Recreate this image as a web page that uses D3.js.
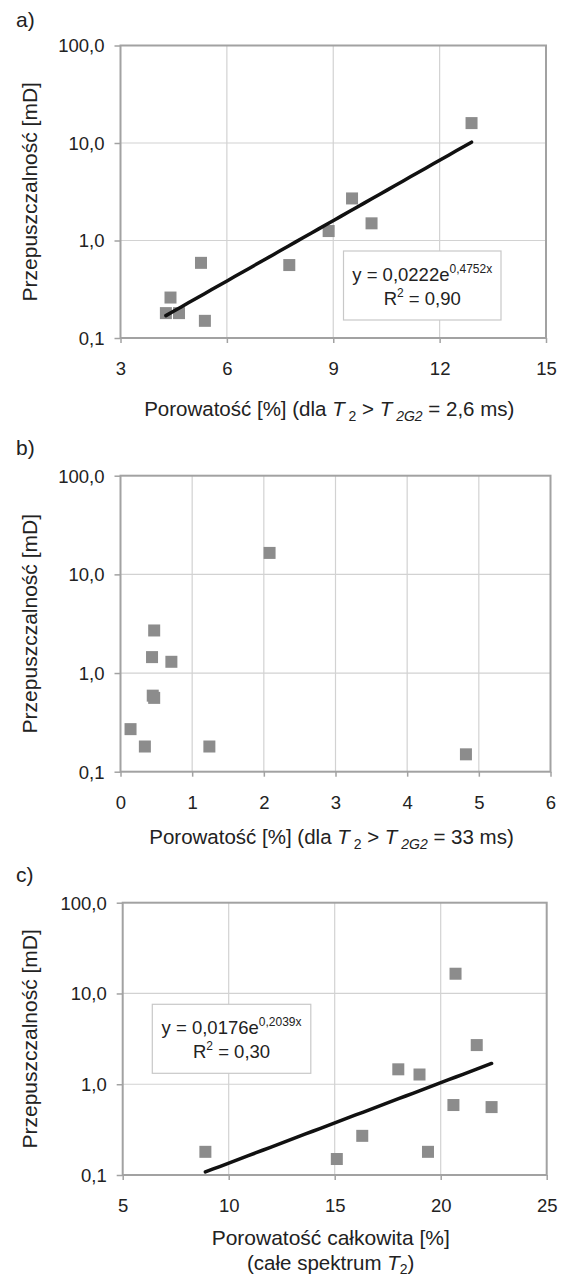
<!DOCTYPE html>
<html><head><meta charset="utf-8">
<script src="https://cdn.jsdelivr.net/npm/d3@7"></script>
<style>
html,body{margin:0;padding:0;background:#fff;}
svg{display:block;font-family:"Liberation Sans",Arial,sans-serif;}
</style></head>
<body>
<svg id="chart" width="563" height="1279"></svg>
<script>
// ---- data ----
const yTicks = [0.1, 1, 10, 100];
const yTickLabels = ["0,1", "1,0", "10,0", "100,0"];

const aXTicks = [3, 6, 9, 12, 15];
const aX = [4.28, 4.65, 4.41, 5.27, 5.38, 7.76, 8.87, 10.08, 9.53, 12.9];
const aY = [0.18, 0.18, 0.26, 0.59, 0.15, 0.56, 1.25, 1.50, 2.70, 16.0];
const aFit = [0.0222, 0.4752];
const aEq = ["0,0222", "0,4752x", "0,90"];

const bXTicks = [0, 1, 2, 3, 4, 5, 6];
const bX = [0.47, 0.44, 0.71, 0.45, 0.47, 0.14, 0.34, 1.24, 4.82, 2.08];
const bY = [2.70, 1.45, 1.30, 0.59, 0.56, 0.27, 0.18, 0.18, 0.15, 16.5];

const cXTicks = [5, 10, 15, 20, 25];
const cX = [8.9, 15.1, 16.3, 18.0, 19.0, 19.4, 20.6, 22.4, 21.7, 20.7];
const cY = [0.18, 0.15, 0.27, 1.46, 1.28, 0.18, 0.59, 0.56, 2.70, 16.5];
const cFit = [0.0176, 0.2039];
const cEq = ["0,0176", "0,2039x", "0,30"];

// ---- drawing ----
const svg = d3.select("#chart");
const TXT = "#222";
const FRAME = "#a2a2a2";
const GRID = "#d2d2d2";
const MARK = "#8c8c8c";

function panel(o) {
  const g = svg.append("g");
  const x = d3.scaleLinear().domain(d3.extent(o.xTicks)).range([o.l, o.r]);
  const y = d3.scaleLog().domain([0.1, 100]).range([o.b, o.t]);

  // grid
  g.selectAll(".vg").data(o.xTicks.slice(1, -1)).join("line")
    .attr("x1", d => x(d)).attr("x2", d => x(d)).attr("y1", o.t).attr("y2", o.b)
    .attr("stroke", GRID).attr("stroke-width", 1.2);
  g.selectAll(".hg").data(yTicks.slice(1, -1)).join("line")
    .attr("x1", o.l).attr("x2", o.r).attr("y1", d => y(d)).attr("y2", d => y(d))
    .attr("stroke", GRID).attr("stroke-width", 1.2);

  // axes
  const xa = d3.axisBottom(x).tickValues(o.xTicks).tickSize(5).tickFormat(d => d);
  const xg = g.append("g").attr("transform", `translate(0,${o.b})`).call(xa);
  xg.select(".domain").remove();
  xg.selectAll("line").attr("stroke", FRAME).attr("stroke-width", 1.5);
  xg.selectAll("text").attr("fill", TXT).attr("font-size", 18.5)
    .attr("font-family", "Liberation Sans, Arial, sans-serif").attr("dy", null).attr("y", 37);

  const ya = d3.axisLeft(y).tickValues(yTicks).tickSize(6)
    .tickFormat((d, i) => yTickLabels[i]);
  const yg = g.append("g").attr("transform", `translate(${o.l},0)`).call(ya);
  yg.select(".domain").remove();
  yg.selectAll("line").attr("stroke", FRAME).attr("stroke-width", 1.5);
  yg.selectAll("text").attr("fill", TXT).attr("font-size", 18.5)
    .attr("font-family", "Liberation Sans, Arial, sans-serif").attr("x", -16).attr("dy", "0.35em");

  // frame
  g.append("rect").attr("x", o.l).attr("y", o.t).attr("width", o.r - o.l).attr("height", o.b - o.t)
    .attr("fill", "none").attr("stroke", FRAME).attr("stroke-width", 2);

  // markers
  g.selectAll(".pt").data(o.xs.map((v, i) => [v, o.ys[i]])).join("rect")
    .attr("x", d => x(d[0]) - 6).attr("y", d => y(d[1]) - 6)
    .attr("width", 12).attr("height", 12).attr("fill", MARK);

  // trend line
  if (o.fit) {
    const [x0, x1] = d3.extent(o.xs);
    const pts = d3.range(0, 41).map(k => {
      const xv = x0 + (x1 - x0) * k / 40;
      return [xv, o.fit[0] * Math.exp(o.fit[1] * xv)];
    });
    g.append("path").datum(pts)
      .attr("d", d3.line().x(d => x(d[0])).y(d => y(d[1])))
      .attr("fill", "none").attr("stroke", "#111").attr("stroke-width", 3.5)
      .attr("stroke-linecap", "round");
  }

  // equation box
  if (o.eq) {
    const bx = o.box;
    g.append("rect").attr("x", bx[0]).attr("y", bx[1]).attr("width", bx[2]).attr("height", bx[3])
      .attr("fill", "#fff").attr("stroke", "#c8c8c8").attr("stroke-width", 1.2);
    const cx = bx[0] + bx[2] / 2;
    const t1 = g.append("text").attr("x", cx).attr("y", bx[1] + 30).attr("text-anchor", "middle")
      .attr("fill", TXT).attr("font-size", 18.5);
    t1.append("tspan").text("y = " + o.eq[0] + "e");
    t1.append("tspan").attr("dy", -8).attr("font-size", 12).text(o.eq[1]);
    const t2 = g.append("text").attr("x", cx).attr("y", bx[1] + 54).attr("text-anchor", "middle")
      .attr("fill", TXT).attr("font-size", 18.5);
    t2.append("tspan").text("R");
    t2.append("tspan").attr("dy", -8).attr("font-size", 12).text("2");
    t2.append("tspan").attr("dy", 8).text(" = " + o.eq[2]);
  }

  // y title
  g.append("text")
    .attr("transform", `translate(${o.ytx},${(o.t + o.b) / 2}) rotate(-90)`)
    .attr("text-anchor", "middle").attr("fill", TXT).attr("font-size", 21)
    .text("Przepuszczalność [mD]");

  // panel label
  g.append("text").attr("x", 16).attr("y", o.labY).attr("fill", TXT).attr("font-size", 21).text(o.label);

  // x title
  o.xtitle(g, (o.l + o.r) / 2 - 4);
  return g;
}

function titleT2(g, cx, yb, val) {
  const t = g.append("text").attr("x", cx).attr("y", yb).attr("text-anchor", "middle")
    .attr("fill", TXT).attr("font-size", 20.5);
  t.append("tspan").text("Porowatość [%] (dla ");
  t.append("tspan").attr("font-style", "italic").text("T");
  t.append("tspan").attr("dy", 5).attr("font-size", 14).text(" 2");
  t.append("tspan").attr("dy", -5).text(" > ");
  t.append("tspan").attr("font-style", "italic").text("T");
  t.append("tspan").attr("dy", 5).attr("font-size", 14).attr("font-style", "italic").text(" 2G2");
  t.append("tspan").attr("dy", -5).text(" = " + val + ")");
}

panel({
  l: 120.5, r: 546, t: 45.5, b: 338, xTicks: aXTicks, xs: aX, ys: aY,
  fit: aFit, eq: aEq, box: [343.5, 251, 157.5, 69], ytx: 37, label: "a)", labY: 27,
  xtitle: (g, cx) => titleT2(g, cx, 416, "2,6 ms")
});
panel({
  l: 120.5, r: 550.5, t: 475.7, b: 771.7, xTicks: bXTicks, xs: bX, ys: bY,
  ytx: 37, label: "b)", labY: 455,
  xtitle: (g, cx) => titleT2(g, cx, 844, "33 ms")
});
panel({
  l: 122.7, r: 546.7, t: 902.7, b: 1175, xTicks: cXTicks, xs: cX, ys: cY,
  fit: cFit, eq: cEq, box: [152.3, 1004.3, 158.5, 69], ytx: 37, label: "c)", labY: 882,
  xtitle: (g, cx) => {
    g.append("text").attr("x", cx).attr("y", 1245).attr("text-anchor", "middle")
      .attr("fill", TXT).attr("font-size", 21).text("Porowatość całkowita [%]");
    const t = g.append("text").attr("x", cx).attr("y", 1270).attr("text-anchor", "middle")
      .attr("fill", TXT).attr("font-size", 20.5);
    t.append("tspan").text("(całe spektrum ");
    t.append("tspan").attr("font-style", "italic").text("T");
    t.append("tspan").attr("dy", 4).attr("font-size", 14).text("2");
    t.append("tspan").attr("dy", -4).text(")");
  }
});
</script>
</body></html>
